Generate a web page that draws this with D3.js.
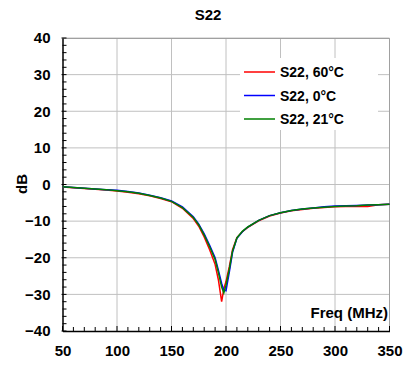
<!DOCTYPE html>
<html>
<head>
<meta charset="utf-8">
<script src="https://cdn.jsdelivr.net/npm/d3@7"></script>
<style>
  body { margin: 0; background: #fff; }
  text { font-family: "Liberation Sans", Arial, sans-serif; font-weight: bold; }
</style>
</head>
<body>
<div id="chart"></div>
<script>
// data
var freqs = [50, 60, 70, 80, 90, 100, 110, 120, 130, 140, 150, 160, 170, 175, 180, 185, 190, 193, 196, 198, 200, 203, 206, 210, 215, 220, 230, 240, 250, 260, 270, 280, 290, 300, 310, 320, 330, 340, 350];
var s22_60 = [-0.7, -0.9, -1.1, -1.3, -1.5, -1.8, -2.1, -2.5, -3.1, -3.8, -4.7, -6.5, -9.3, -11.4, -14.3, -17.8, -21.8, -26.0, -32.0, -28.5, -26.5, -22.5, -17.8, -14.5, -12.9, -11.7, -9.9, -8.6, -7.8, -7.2, -6.8, -6.5, -6.3, -6.1, -6.0, -6.0, -6.0, -5.5, -5.4];
var s22_0 = [-0.6, -0.8, -1.0, -1.2, -1.4, -1.6, -1.9, -2.3, -2.9, -3.6, -4.5, -6.1, -8.8, -10.8, -13.5, -16.6, -20.0, -23.4, -27.0, -28.8, -29.0, -24.0, -18.5, -14.7, -12.9, -11.6, -9.8, -8.5, -7.7, -7.1, -6.7, -6.4, -6.1, -5.9, -5.8, -5.7, -5.6, -5.5, -5.4];
var s22_21 = [-0.6, -0.8, -1.0, -1.2, -1.4, -1.7, -2.0, -2.4, -3.0, -3.7, -4.6, -6.3, -9.0, -11.0, -13.8, -17.0, -20.5, -24.0, -28.0, -29.6, -27.5, -23.2, -18.2, -14.6, -12.8, -11.6, -9.8, -8.5, -7.7, -7.1, -6.7, -6.4, -6.2, -6.0, -5.9, -5.8, -5.6, -5.5, -5.4];

var seriesNames = ["S22, 60°C", "S22, 0°C", "S22, 21°C"];
var seriesColors = ["#ff0000", "#0000ff", "#008000"];
var seriesData = [s22_60, s22_0, s22_21];

var xTicks = [50, 100, 150, 200, 250, 300, 350];
var yTicks = [-40, -30, -20, -10, 0, 10, 20, 30, 40];

var svgWidth = 405;
var svgHeight = 369;
var margin = { top: 38, right: 16, bottom: 38, left: 62.5 };
var width = 327;
var height = 293;

var svg = d3.select("#chart")
    .append("svg")
    .attr("width", svgWidth)
    .attr("height", svgHeight);

var chartGroup = svg.append("g")
    .attr("transform", `translate(${margin.left}, ${margin.top})`);

var xScale = d3.scaleLinear().domain([50, 350]).range([0, width]);
var yScale = d3.scaleLinear().domain([-40, 40]).range([height, 0]);

// gridlines
chartGroup.append("g")
    .selectAll("line")
    .data(xTicks.slice(1))
    .enter()
    .append("line")
    .attr("x1", d => xScale(d)).attr("x2", d => xScale(d))
    .attr("y1", 0).attr("y2", height)
    .attr("stroke", "#c0c0c0");

chartGroup.append("g")
    .selectAll("line")
    .data(yTicks.slice(1))
    .enter()
    .append("line")
    .attr("x1", 0).attr("x2", width)
    .attr("y1", d => yScale(d)).attr("y2", d => yScale(d))
    .attr("stroke", "#c0c0c0");

// frame top/right
chartGroup.append("path")
    .attr("d", `M0,0.5H${width}V${height}`)
    .attr("fill", "none")
    .attr("stroke", "#a0a0a0");

// minor ticks inside
var xMinor = d3.range(50, 351, 10);
var yMinor = d3.range(-40, 41, 2);

chartGroup.append("g")
    .selectAll("line")
    .data(xMinor)
    .enter()
    .append("line")
    .attr("x1", d => xScale(d)).attr("x2", d => xScale(d))
    .attr("y1", height).attr("y2", d => height - (d % 50 === 0 ? 5 : 4))
    .attr("stroke", "#000");

chartGroup.append("g")
    .selectAll("line")
    .data(yMinor)
    .enter()
    .append("line")
    .attr("x1", d => (d % 10 === 0 ? -1 : 0)).attr("x2", 4)
    .attr("y1", d => yScale(d)).attr("y2", d => yScale(d))
    .attr("stroke", "#000");

// axes
var bottomAxis = d3.axisBottom(xScale).tickValues(xTicks).tickSize(0).tickPadding(14);
var leftAxis = d3.axisLeft(yScale).tickValues(yTicks).tickSize(0).tickPadding(12);

var gx = chartGroup.append("g")
    .attr("transform", `translate(0, ${height})`)
    .call(bottomAxis);
gx.select(".domain").attr("stroke", "#000").attr("stroke-width", 1.5);
gx.selectAll("text").attr("font-size", 15).attr("font-family", "Liberation Sans, Arial").attr("font-weight", "bold").attr("fill", "#000");

var gy = chartGroup.append("g")
    .call(leftAxis);
gy.select(".domain").attr("stroke", "#000").attr("stroke-width", 1.5);
gy.selectAll("text").attr("font-size", 15).attr("font-family", "Liberation Sans, Arial").attr("font-weight", "bold").attr("fill", "#000");

// lines
var line = d3.line()
    .x((d, i) => xScale(freqs[i]))
    .y(d => yScale(d));

seriesData.forEach(function (vals, i) {
    chartGroup.append("path")
        .datum(vals)
        .attr("d", line)
        .attr("fill", "none")
        .attr("stroke", seriesColors[i])
        .attr("stroke-width", 1.5);
});

// legend
var legend = svg.append("g");
legend.append("rect")
    .attr("x", 240).attr("y", 58)
    .attr("width", 138).attr("height", 72)
    .attr("fill", "#fff");

seriesNames.forEach(function (name, i) {
    var y = 72 + i * 23.5;
    legend.append("line")
        .attr("x1", 244).attr("x2", 275)
        .attr("y1", y).attr("y2", y)
        .attr("stroke", seriesColors[i])
        .attr("stroke-width", 1.5);
    legend.append("text")
        .attr("x", 280).attr("y", y + 5)
        .attr("font-size", 14)
        .text(name);
});

// titles
svg.append("text")
    .attr("x", 208).attr("y", 20)
    .attr("text-anchor", "middle")
    .attr("font-size", 15)
    .text("S22");

svg.append("text")
    .attr("transform", "translate(27, 184) rotate(-90)")
    .attr("text-anchor", "middle")
    .attr("font-size", 15)
    .text("dB");

svg.append("text")
    .attr("x", 388).attr("y", 318)
    .attr("text-anchor", "end")
    .attr("font-size", 15)
    .text("Freq (MHz)");
</script>
</body>
</html>
